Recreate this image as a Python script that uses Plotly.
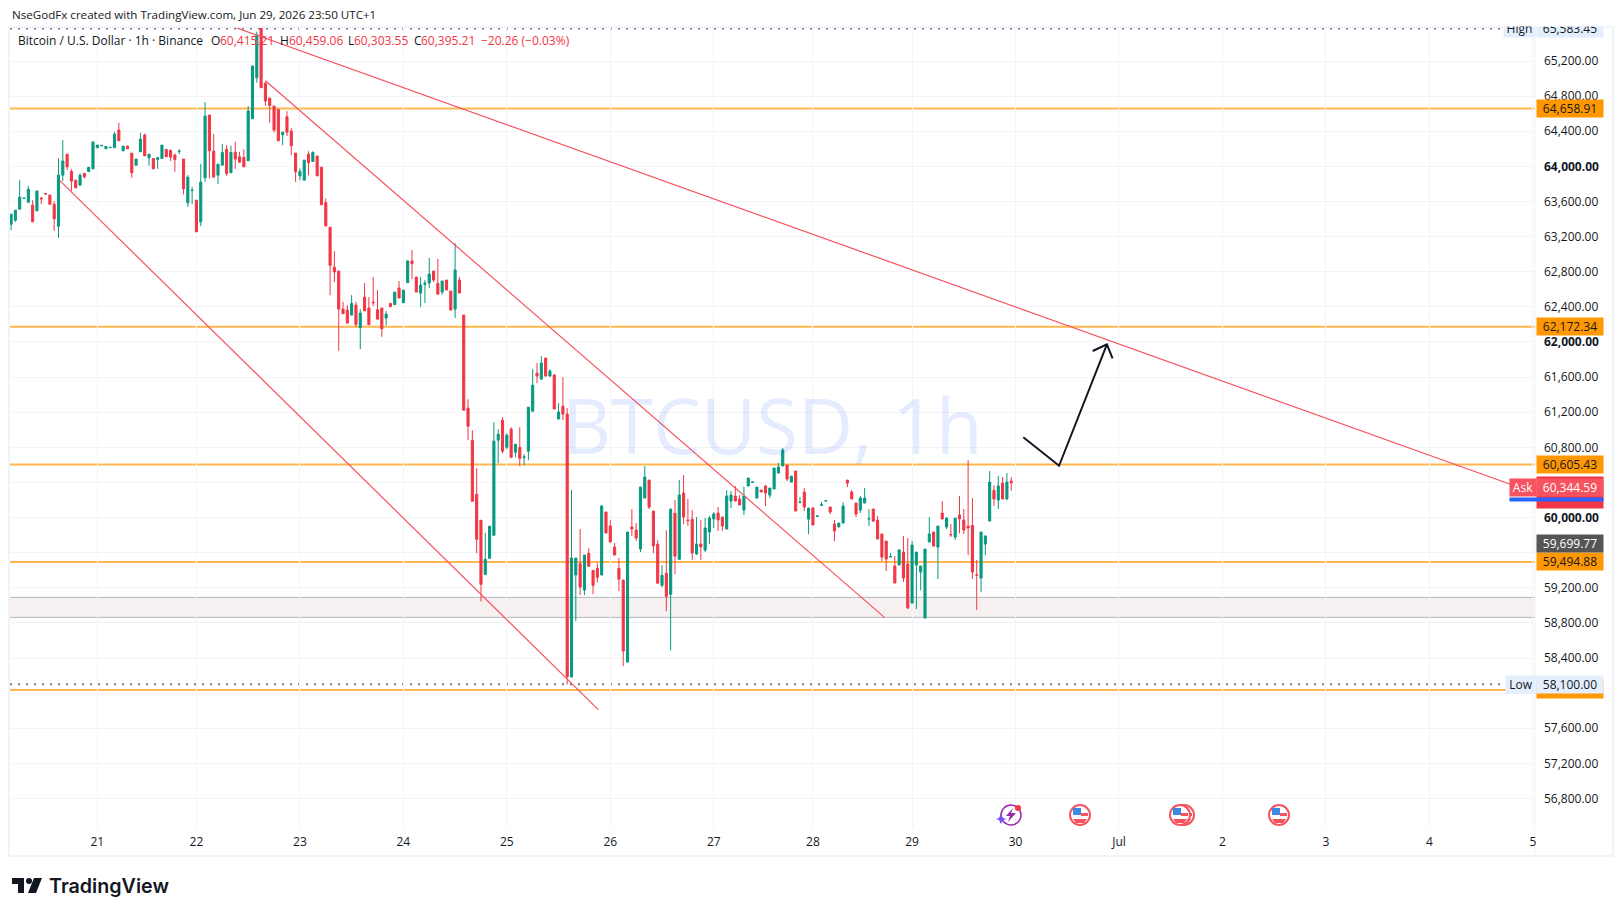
import plotly.graph_objects as go

# hourly candles
opens = [
    63341, 63387, 63512, 63634, 63592, 63558, 63493, 63638, 63691, 63672,
    63569, 63319, 63900, 64139, 63942, 63843, 63786, 63919, 63942, 63972,
    64212, 64235, 64200, 64212, 64212, 64413, 64177, 64231, 64151, 64014,
    64166, 64356, 64098, 64090, 64079, 64090, 64193, 64181, 64128, 64168,
    64083, 63585, 63725, 63615, 63368, 63870, 64584, 64173, 63900, 64014,
    64196, 63927, 64162, 64109, 64101, 64063, 64542, 65010, 65580, 64945,
    64778, 64687, 64649, 64360, 64565, 64402, 64151, 63892, 63843, 64139,
    64056, 64117, 63991, 63588, 63307, 62851, 62808, 62374, 62363, 62306,
    62420, 62162, 62511, 62386, 62454, 62367, 62386, 62272, 62439, 62424,
    62614, 62447, 62675, 62922, 62739, 62557, 62656, 62671, 62808, 62667,
    62568, 62705, 62580, 62374, 62705, 62306, 61246, 60881, 60265, 59969,
    59353, 59536, 59798, 60881, 61109, 60801, 61006, 60744, 60801, 60683,
    60756, 61212, 61645, 61577, 61816, 61611, 61623, 61122, 61269, 61179,
    58183, 59345, 59474, 59174, 59593, 59399, 59422, 59345, 60063, 59905,
    59664, 59422, 59288, 58354, 59892, 59858, 59641, 60222, 60427, 60074,
    59696, 59228, 59365, 59125, 60049, 59524, 60279, 59973, 59981, 59585,
    59699, 59630, 59835, 59983, 60052, 60005, 59869, 60188, 60245, 60211,
    60085, 60359, 60400, 60222, 60313, 60359, 60256, 60325, 60507, 60587,
    60598, 60404, 60530, 60170, 60290, 59982, 60108, 60013, 60140, 60188,
    60120, 59926, 59892, 59937, 60427, 60290, 60165, 60085, 60165, 59983,
    60097, 59971, 59812, 59732, 59550, 59448, 59459, 59607, 59470, 59026,
    59459, 59379, 58855, 59721, 59835, 59664, 60051, 59892, 59809, 59778,
    60029, 59972, 59903, 59911, 59348, 59311, 59698, 59960, 60310, 60199,
    60393, 60211, 60415.21,
]
highs = [
    63455, 63501, 63843, 63638, 63775, 63615, 63729, 63653, 63691, 63680,
    63604, 64090, 64299, 64139, 63968, 63843, 63919, 63927, 63995, 64288,
    64242, 64242, 64227, 64216, 64394, 64497, 64231, 64231, 64151, 64083,
    64383, 64375, 64139, 64090, 64109, 64242, 64193, 64193, 64147, 64196,
    64083, 63900, 63767, 63615, 64029, 64732, 64584, 64367, 64025, 64253,
    64242, 64234, 64280, 64166, 64196, 64687, 65143, 65534, 65583.45, 64964,
    64778, 64687, 64649, 64390, 64630, 64436, 64151, 63976, 64071, 64173,
    64173, 64117, 63991, 63634, 63307, 63034, 62808, 62458, 62420, 62534,
    62458, 62374, 62671, 62511, 62739, 62591, 62386, 62352, 62439, 62568,
    62694, 62591, 62933, 63047, 62739, 62739, 62705, 62956, 62808, 62945,
    62694, 62705, 62580, 63127, 62739, 62306, 61348, 60995, 60562, 59969,
    59825, 59901, 61086, 61006, 61143, 60961, 61029, 60835, 61029, 60722,
    61257, 61690, 61759, 61839, 61816, 61690, 61634, 61304, 61600, 61246,
    60313, 59539, 59869, 59573, 59650, 59399, 59479, 60142, 60063, 59973,
    59710, 59539, 59288, 59835, 60097, 59938, 60347, 60586, 60427, 60074,
    59741, 59456, 59855, 60106, 60199, 60427, 60484, 60211, 60085, 60006,
    59973, 59995, 60017, 60062, 60120, 60005, 60313, 60302, 60359, 60256,
    60351, 60450, 60406, 60347, 60313, 60370, 60336, 60564, 60621, 60792,
    60598, 60472, 60530, 60233, 60336, 60108, 60119, 60018, 60176, 60192,
    60120, 59972, 59937, 60176, 60427, 60313, 60165, 60245, 60336, 60097,
    60097, 60017, 59812, 59732, 59596, 59562, 59642, 59790, 59767, 59733,
    59607, 59447, 59641, 60006, 59835, 59903, 60188, 60006, 59926, 59994,
    60245, 60097, 60655, 60222, 59516, 59835, 59800, 60530, 60370, 60473,
    60462, 60507, 60459.06,
]
lows = [
    63273, 63368, 63512, 63634, 63592, 63368, 63493, 63569, 63685, 63562,
    63265, 63186, 63832, 63957, 63721, 63748, 63786, 63862, 63934, 63972,
    64212, 64231, 64200, 64212, 64212, 64291, 64177, 64200, 63870, 64014,
    64166, 64120, 64006, 63968, 63972, 64090, 64109, 64060, 63938, 64139,
    63680, 63539, 63569, 63254, 63319, 63824, 63862, 63866, 63798, 64014,
    63892, 63927, 63972, 64041, 63995, 64063, 64542, 64953, 64896, 64690,
    64497, 64386, 64291, 64242, 64345, 64128, 63824, 63843, 63843, 63900,
    64056, 63892, 63562, 63322, 62532, 62684, 61899, 62321, 62215, 62306,
    62173, 61918, 62355, 62196, 62409, 62260, 62059, 62188, 62393, 62424,
    62500, 62447, 62675, 62716, 62568, 62397, 62443, 62614, 62682, 62534,
    62538, 62591, 62363, 62272, 62557, 61223, 60881, 60185, 59593, 59045,
    59342, 59536, 59798, 60619, 60733, 60778, 60676, 60687, 60585, 60596,
    60653, 61200, 61531, 61566, 61611, 61611, 61236, 61122, 61111, 58100,
    58183, 58821, 59117, 59117, 59445, 59125, 59262, 59345, 59824, 59711,
    59573, 59163, 58308, 58354, 59789, 59733, 59607, 60222, 60097, 59593,
    59252, 59205, 58932, 58487, 59356, 59524, 59926, 59905, 59517, 59573,
    59517, 59607, 59699, 59881, 59847, 59850, 59869, 60108, 60188, 60143,
    60028, 60359, 60400, 60222, 60291, 60131, 60222, 60325, 60507, 60587,
    60416, 60404, 60074, 60165, 60074, 59811, 59914, 60013, 60131, 60188,
    60040, 59731, 59892, 59937, 60347, 60211, 60006, 60051, 60165, 59903,
    59949, 59755, 59505, 59391, 59550, 59254, 59459, 59265, 58958, 59026,
    58958, 59170, 58855, 59721, 59675, 59300, 59983, 59869, 59778, 59744,
    59820, 59812, 59573, 59300, 58947, 59151, 59572, 59960, 60131, 60097,
    60211, 60199, 60303.55,
]
closes = [
    63455, 63501, 63649, 63638, 63740, 63368, 63718, 63630, 63685, 63569,
    63402, 63900, 64060, 63995, 63832, 63756, 63900, 63881, 63987, 64276,
    64242, 64239, 64227, 64216, 64367, 64291, 64231, 64200, 63927, 64083,
    64310, 64120, 64139, 63972, 64098, 64242, 64109, 64105, 64079, 64172,
    63744, 63877, 63729, 63254, 63820, 64573, 64177, 63881, 64025, 64158,
    63919, 64158, 64083, 64048, 63995, 64630, 65143, 65496, 64896, 64744,
    64694, 64413, 64291, 64390, 64390, 64234, 63938, 63942, 64071, 64041,
    64158, 63892, 63562, 63322, 62874, 62798, 62374, 62321, 62215, 62439,
    62200, 62329, 62355, 62196, 62447, 62260, 62150, 62317, 62405, 62568,
    62500, 62591, 62922, 62891, 62568, 62648, 62671, 62773, 62705, 62545,
    62694, 62591, 62363, 62819, 62557, 61223, 61041, 60185, 59752, 59239,
    59524, 59901, 60870, 60950, 60756, 60938, 60687, 60835, 60676, 60691,
    61257, 61508, 61611, 61759, 61611, 61668, 61236, 61202, 61179, 58187,
    59539, 59539, 59208, 59573, 59445, 59228, 59319, 60131, 59824, 59723,
    59573, 59297, 58479, 59835, 59869, 59767, 60347, 60461, 60119, 59677,
    59252, 59342, 59103, 60094, 59560, 60256, 60006, 59965, 59596, 59699,
    59665, 59881, 59995, 60040, 59973, 59903, 60245, 60256, 60188, 60143,
    60245, 60450, 60406, 60347, 60291, 60279, 60336, 60564, 60575, 60769,
    60438, 60472, 60074, 60175, 60120, 60108, 59914, 60018, 60145, 60192,
    60063, 59846, 59937, 60131, 60393, 60211, 60040, 60222, 60222, 59988,
    59960, 59755, 59550, 59527, 59555, 59254, 59630, 59311, 58970, 59687,
    59607, 59447, 59641, 59812, 59675, 59903, 59983, 59994, 59803, 59994,
    59983, 59858, 59881, 59380, 59342, 59835, 59789, 60404, 60211, 60359,
    60211, 60404, 60395.21,
]
bars = list(range(len(opens)))

day_bars = [20, 43, 67, 91, 115, 139, 163, 186, 209, 233, 257, 281, 305, 329, 353]
day_labels = ["21", "22", "23", "24", "25", "26", "27", "28", "29", "30", "Jul", "2", "3", "4", "5"]

price_ticks = [56800 + 400 * k for k in range(22)]
round_prices = [60000, 62000, 64000]
# these sit behind the price tags in the chart, only their grid line shows
covered_prices = [58000, 59600, 60400]

levels = [64658.91, 62172.34, 60605.43, 59494.88, 58037]
zone_top = 59091
zone_bottom = 58863
high_price = 65583.45
low_price = 58100.00
ask_price = 60344.59
bid_price = 59699.77

# trendlines and the hand drawn arrow (bar index, price)
trend_a_x, trend_a_y = [52.3, 348.1], [65578, 60374]
trend_b_x, trend_b_y = [59.0, 202.6], [64976, 58863]
trend_c_x, trend_c_y = [11.2, 136.2], [63843, 57813]
arrow_x, arrow_y = [234.8, 243.1, 254.2], [60914, 60590, 61973]
head_x, head_y = [250.9, 254.2, 255.5], [61897, 61973, 61814]

# OHLC readout above the chart, with where each piece starts in the page
readout = [
    ("Bitcoin / U.S. Dollar · 1h · Binance", 16, False),
    ("O", 209, False), ("60,415.21", 218, True),
    ("H", 278, False), ("60,459.06", 287, True),
    ("L", 346, False), ("60,303.55", 352, True),
    ("C", 412, False), ("60,395.21", 419, True),
    ("−20.26 (−0.03%)", 479, True),
]

W, H = 1623, 916
L, R, T, B = 10, 1535, 28, 828
UP, DOWN = "#089981", "#F23645"
ORANGE = "#FF9800"
TEXT = "#131722"
FONT = "Open Sans"


def px(x):
    return (x - L) / (R - L)


def py(y):
    return (B - y) / (B - T)


def money(v):
    return f"{v:,.2f}"


fig = go.Figure()

fig.add_trace(go.Candlestick(
    x=bars, open=opens, high=highs, low=lows, close=closes,
    increasing=dict(line=dict(color=UP, width=1), fillcolor=UP),
    decreasing=dict(line=dict(color=DOWN, width=1), fillcolor=DOWN),
    whiskerwidth=0, hoverinfo="skip", showlegend=False,
))

for tx, ty in [(trend_a_x, trend_a_y), (trend_b_x, trend_b_y), (trend_c_x, trend_c_y)]:
    fig.add_trace(go.Scatter(x=tx, y=ty, mode="lines", line=dict(color="#F7525F", width=1.2),
                             hoverinfo="skip", showlegend=False))
for tx, ty in [(arrow_x, arrow_y), (head_x, head_y)]:
    fig.add_trace(go.Scatter(x=tx, y=ty, mode="lines", line=dict(color="#131722", width=2),
                             hoverinfo="skip", showlegend=False))

shapes = []
# support zone and levels, under the candles
shapes.append(dict(type="rect", xref="paper", x0=0, x1=1, yref="y", y0=zone_bottom, y1=zone_top,
                   fillcolor="#F6F0F0", line=dict(width=0), layer="below"))
for lv in [zone_top, zone_bottom]:
    shapes.append(dict(type="line", xref="paper", x0=0, x1=1, yref="y", y0=lv, y1=lv,
                       line=dict(color="#B2B5BE", width=1), layer="below"))
for lv in levels:
    shapes.append(dict(type="line", xref="paper", x0=0, x1=1, yref="y", y0=lv, y1=lv,
                       line=dict(color="#FFB74D", width=2), layer="below"))
dots = dict(color="#787B86", width=2, dash="2px,6px")
shapes.append(dict(type="line", xref="paper", x0=0, x1=px(1503), yref="paper", y0=py(28.5), y1=py(28.5),
                   line=dots, layer="below"))
shapes.append(dict(type="line", xref="paper", x0=0, x1=px(1505), yref="y", y0=low_price, y1=low_price,
                   line=dots, layer="below"))

# outer frame of the widget
shapes.append(dict(type="rect", xref="paper", yref="paper", x0=px(9), x1=px(1613), y0=py(856), y1=py(27),
                   line=dict(color="#F0F3FA", width=2), layer="below"))
shapes.append(dict(type="line", xref="paper", yref="paper", x0=1, x1=1, y0=py(856), y1=py(27),
                   line=dict(color="#F0F3FA", width=1), layer="below"))


def circle(cx, cy, r, **kw):
    return dict(type="circle", xref="paper", yref="paper", x0=px(cx - r), x1=px(cx + r),
                y0=py(cy + r), y1=py(cy - r), **kw)


def poly(points, color):
    d = "M " + " L ".join(f"{px(a):.5f},{py(b):.5f}" for a, b in points) + " Z"
    return dict(type="path", xref="paper", yref="paper", path=d, fillcolor=color,
                line=dict(color=color, width=0))


# economic calendar flags on the time axis
for cx in [1184, 1080, 1180, 1279]:
    shapes.append(circle(cx, 815, 10, fillcolor="white", line=dict(color="#F7525F", width=2)))
    shapes.append(poly([(cx - 7, 808), (cx + 1, 808), (cx + 1, 815), (cx - 7, 815)], "#3D8BE0"))
    shapes.append(poly([(cx + 1, 813), (cx + 8, 813), (cx + 8, 816), (cx + 1, 816)], "#F7525F"))
    shapes.append(poly([(cx - 7, 819), (cx + 7, 819), (cx + 4, 823), (cx - 4, 823)], "#F7525F"))

# earnings style bolt icon
shapes.append(circle(1011, 815, 10, line=dict(color="#9C27B0", width=1.5)))
shapes.append(poly([(1013, 808), (1006, 816), (1010, 816), (1008, 822), (1016, 813), (1011, 813)], "#9C27B0"))
shapes.append(poly([(1001, 814), (1003, 818), (1007, 819), (1003, 820), (1001, 824), (999, 820), (996, 819), (999, 818)], "#7B4DFF"))
shapes.append(circle(1018, 808, 3, fillcolor="#F23645", line=dict(width=0)))

# logo mark
shapes.append(poly([(12, 878), (24, 878), (24, 893), (18, 893), (18, 884), (12, 884)], "#131722"))
shapes.append(circle(29, 881, 3, fillcolor="#131722", line=dict(width=0)))
shapes.append(poly([(34, 878), (42, 878), (36, 893), (28, 893)], "#131722"))

annotations = []


def tag(y_value, text, bg, color, x0=1536, x1=1602, h=17):
    annotations.append(dict(xref="paper", x=px(x0), xanchor="left", yref="y", y=y_value, yanchor="middle",
                            text=text, showarrow=False, bgcolor=bg, width=x1 - x0, height=h, align="center",
                            borderpad=0, font=dict(family=FONT, size=12, color=color)))


# High tag sits on the top edge, only its lower half is on the chart
for text, x0, width in [("High", 1503, 31), (money(high_price), 1536, 66)]:
    annotations.append(dict(xref="paper", yref="paper", x=px(x0), xanchor="left", y=py(28.5), yanchor="middle",
                            text=text, showarrow=False, bgcolor="#E3EFFD", width=width, height=17, borderpad=0,
                            font=dict(family=FONT, size=12, color=TEXT)))
annotations.append(dict(xref="paper", yref="paper", x=px(1495), xanchor="left", y=py(27), yanchor="bottom",
                        text=" ", showarrow=False, bgcolor="white", width=120, height=26, borderpad=0))

for lv in levels[:4]:
    tag(lv, money(lv), ORANGE, TEXT)
tag(levels[4], " ", ORANGE, TEXT)
tag(bid_price, money(bid_price), "#555555", "white")

annotations.append(dict(xref="paper", x=px(1536), xanchor="left", yref="paper", y=py(476), yanchor="top",
                        text=" ", showarrow=False, bgcolor=DOWN, width=66, height=31, borderpad=0))
annotations.append(dict(xref="paper", x=px(1509), xanchor="left", yref="paper", y=py(497), yanchor="top",
                        text=" ", showarrow=False, bgcolor="#2962FF", width=93, height=3, borderpad=0))
tag(ask_price, money(ask_price), "#F7525F", "white")
annotations.append(dict(xref="paper", x=px(1509), xanchor="left", yref="y", y=ask_price, yanchor="middle",
                        text="Ask", showarrow=False, bgcolor="#F7525F", width=26, height=17, borderpad=0,
                        font=dict(family=FONT, size=12, color="white")))

annotations.append(dict(xref="paper", yref="y", x=px(1505), xanchor="left", y=low_price, yanchor="middle",
                        text="Low", showarrow=False, bgcolor="#E3EFFD", width=30, height=17, borderpad=0,
                        font=dict(family=FONT, size=12, color=TEXT)))
tag(low_price, money(low_price), "#E3EFFD", TEXT)

# watermark
annotations.append(dict(xref="paper", yref="paper", x=px(772), y=py(424), xanchor="center", yanchor="middle",
                        text="BTCUSD, 1h", showarrow=False,
                        font=dict(family="Open Sans", size=76, color="rgba(41,98,255,0.12)")))

annotations.append(dict(xref="paper", yref="paper", x=px(10), y=py(15), xanchor="left", yanchor="middle",
                        text="NseGodFx created with TradingView.com, Jun 29, 2026 23:50 UTC+1", showarrow=False,
                        font=dict(family=FONT, size=11.6, color=TEXT)))

for text, x0, is_red in readout:
    annotations.append(dict(xref="paper", yref="paper", x=px(x0), y=py(41), xanchor="left", yanchor="middle",
                            text=text, showarrow=False,
                            font=dict(family=FONT, size=12, color=DOWN if is_red else TEXT)))

annotations.append(dict(xref="paper", yref="paper", x=px(47), y=py(886), xanchor="left", yanchor="middle",
                        text="TradingView", showarrow=False,
                        font=dict(family="Inter", size=19.7, color="#131722", weight=600)))

price_labels = []
for p in price_ticks:
    if p in covered_prices:
        price_labels.append(" ")
    elif p in round_prices:
        price_labels.append(f"<b>{money(p)}</b>")
    else:
        price_labels.append(money(p))

fig.update_layout(
    width=W, height=H,
    margin=dict(l=L, r=W - R, t=T, b=H - B),
    paper_bgcolor="white", plot_bgcolor="white",
    font=dict(family=FONT, size=12, color=TEXT),
    showlegend=False, shapes=shapes, annotations=annotations,
    xaxis=dict(range=[-0.25, 353.5], rangeslider=dict(visible=False), tickmode="array",
               tickvals=day_bars, ticktext=day_labels, showgrid=True, gridcolor="#F3F4F6", gridwidth=1,
               zeroline=False, showline=False, ticks="", ticklabelstandoff=5, fixedrange=True),
    yaxis=dict(range=[56464, 65576], side="right", tickmode="array", tickvals=price_ticks,
               ticktext=price_labels, showgrid=True, gridcolor="#F3F4F6", gridwidth=1,
               zeroline=False, showline=False, ticks="", ticklabelstandoff=8, fixedrange=True),
)

fig.write_html("out.html", config=dict(displayModeBar=False),
               post_script="document.body.style.margin='0';document.body.style.overflow='hidden';")
